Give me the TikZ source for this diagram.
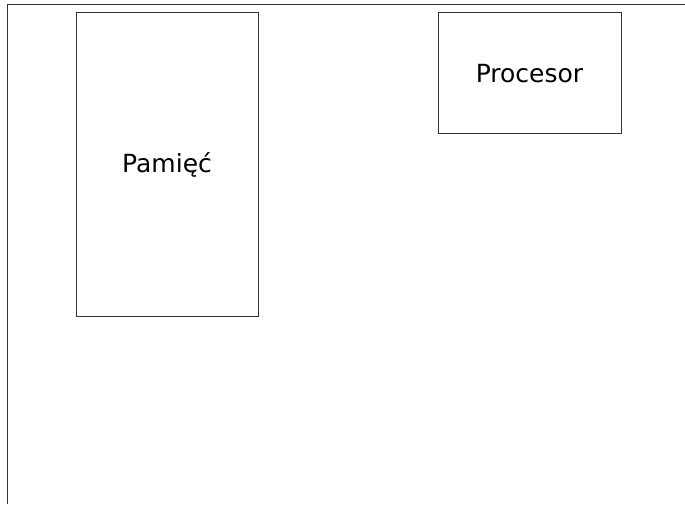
\documentclass[tikz,border=0pt]{standalone}
\usepackage{fontspec}
\setmainfont{DejaVu Sans}
\usepackage{tikz}
\usetikzlibrary{positioning}
\tikzset{
  unit/.style={draw=black!80, line width=1pt, font=\fontsize{25}{30}\selectfont,
               inner sep=0pt, align=center},
  frame/.style={draw=black!80, line width=1pt},
}

\begin{document}
\begin{tikzpicture}[x=1pt, y=1pt]
  \useasboundingbox (0,0) rectangle (685,504);
  \coordinate (fTL) at (7,499);
  \coordinate (fTR) at (685,499);
  \coordinate (fBL) at (7,0);
  \draw[frame] (fTR) -- (fTL) -- (fBL);
  \node[unit, minimum width=182pt, minimum height=303pt] (mem) at (167,339.5) {Pamięć};
  \node[unit, minimum width=183pt, minimum height=121pt] (cpu) at (529.5,430.5) {Procesor};
\end{tikzpicture}
\end{document}
